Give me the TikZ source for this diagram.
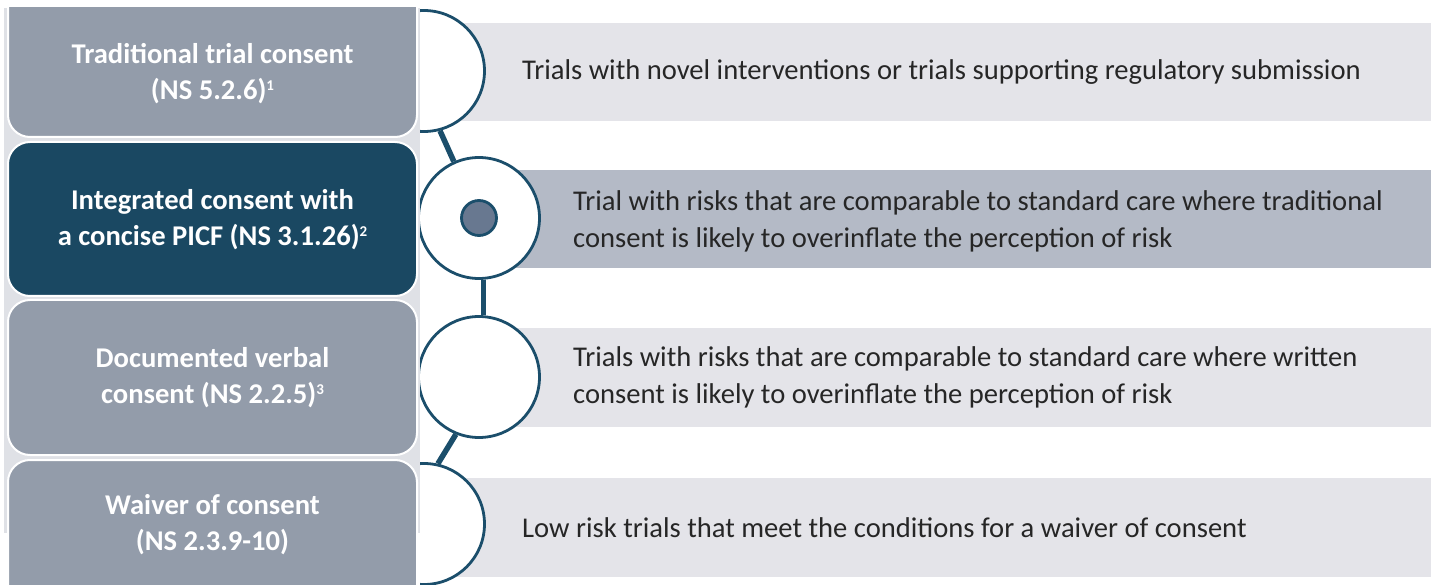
\documentclass[tikz,border=0pt]{standalone}
\usepackage{fontspec}
\setmainfont{Carlito}
\definecolor{colbg}{HTML}{DFE1E6}
\definecolor{boxgrey}{HTML}{939CAA}
\definecolor{boxdark}{HTML}{1A4862}
\definecolor{barlight}{HTML}{E4E4E9}
\definecolor{barmid}{HTML}{B4BAC6}
\definecolor{ringcol}{HTML}{1B4E6B}
\definecolor{dotcol}{HTML}{687890}
\definecolor{txtdark}{HTML}{262626}
\newcommand{\noteref}[1]{\raisebox{8.5pt}{\fontsize{15}{15}\selectfont #1}}
\begin{document}
\begin{tikzpicture}[x=1pt,y=-1pt,
  panel/.style={draw=white, line width=2pt, rounded corners=22pt},
  ring/.style={circle, draw=ringcol, line width=2.8pt, fill=white, minimum size=121pt, inner sep=0pt},
  hub/.style={circle, draw=ringcol, line width=2.8pt, fill=dotcol, minimum size=35pt, inner sep=0pt},
  link/.style={draw=ringcol, line width=5.5pt},
  lefttext/.style={text=white, align=center, inner sep=0pt, font=\fontsize{28.6}{36}\selectfont\bfseries},
  righttext/.style={text=txtdark, align=left, anchor=west, inner sep=0pt, font=\fontsize{28.6}{37}\selectfont}
]
\useasboundingbox (0,0) rectangle (1436,585);

% backdrop of the left column
\fill[colbg] (4,8) rectangle (420,533);

% left column panels
\begin{scope}
  \clip (0,8) rectangle (1436,585);
  \filldraw[panel, fill=boxgrey] (8,-16) rectangle (417,137);
  \filldraw[panel, fill=boxdark] (8,142) rectangle (417,296);
  \filldraw[panel, fill=boxgrey] (8,300) rectangle (417,455);
  \filldraw[panel, fill=boxgrey] (8,460) rectangle (417,614);
\end{scope}

% description bars
\fill[barlight] (430,23) rectangle (1431,121);
\fill[barmid] (485,170) rectangle (1431,268);
\fill[barlight] (485,328) rectangle (1431,427);
\fill[barlight] (430,478) rectangle (1431,577);

% rings, cut off on their left side
\begin{scope}
  \clip (420,0) rectangle (1436,600);
  \node[ring] (c1) at (424,71) {};
  \node[ring] (c2) at (479,218) {};
  \node[ring] (c3) at (479,377) {};
  \node[ring] (c4) at (424,524) {};
\end{scope}

% links between the rings
\draw[link] (c1.-75) -- (c2.114);
\draw[link] (c2.-86) -- (c3.86);
\draw[link] (c3.-112) -- (c4.77);

% marker of the selected row
\node[hub] (h2) at (c2.center) {};

% panel labels
\node[lefttext] (l1) at (212.5,73.5) {Traditional trial consent\\(NS 5.2.6)\noteref{1}};
\node[lefttext] (l2) at (212.5,219.5) {Integrated consent with\\a concise PICF (NS 3.1.26)\noteref{2}};
\node[lefttext] (l3) at (212.5,377.5) {Documented verbal\\consent (NS 2.2.5)\noteref{3}};
\node[lefttext] (l4) at (212.5,524.5) {Waiver of consent\\(NS 2.3.9-10)};

% bar descriptions
\node[righttext] (r1) at (522,72) {Trials with novel interventions or trials supporting regulatory submission};
\node[righttext] (r2) at (573,221) {Trial with risks that are comparable to standard care where traditional\\consent is likely to overinflate the perception of risk};
\node[righttext] (r3) at (573,377) {Trials with risks that are comparable to standard care where written\\consent is likely to overinflate the perception of risk};
\node[righttext] (r4) at (522,528) {Low risk trials that meet the conditions for a waiver of consent};
\end{tikzpicture}
\end{document}
